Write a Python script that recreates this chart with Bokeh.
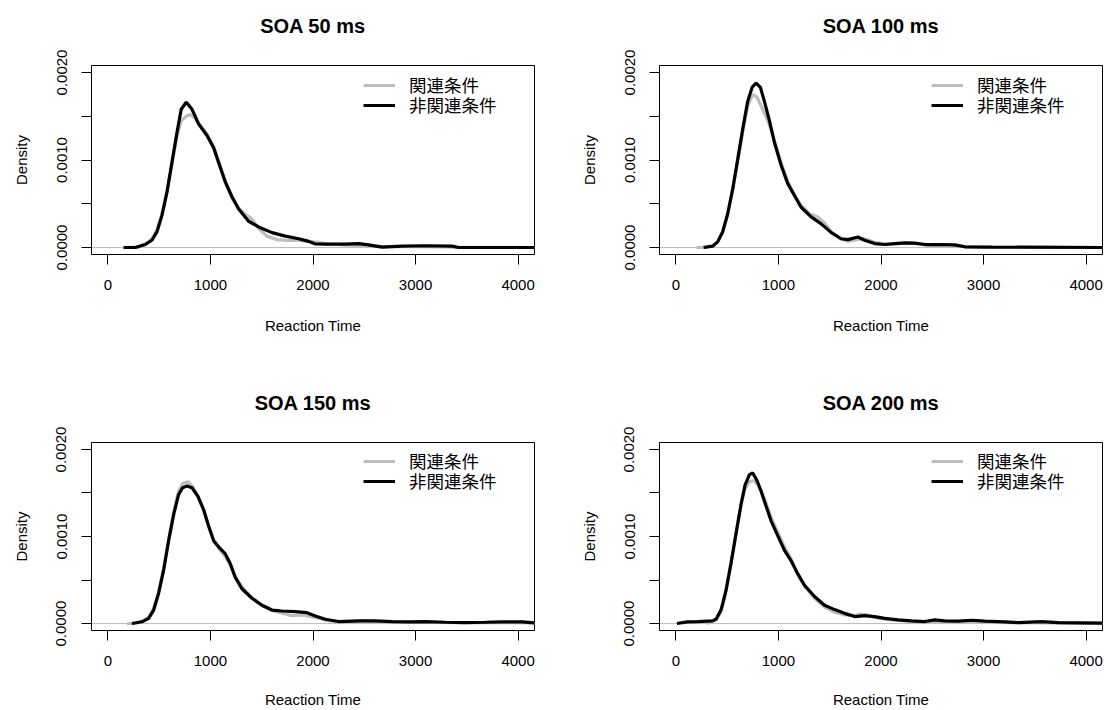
from bokeh.plotting import figure
from bokeh.layouts import row, column
from bokeh.models import (Range1d, FixedTicker, Span, Legend, LegendItem,
                          NumeralTickFormatter, LinearAxis)
from bokeh.embed import file_html
from bokeh.resources import INLINE

titles = ["SOA 50 ms", "SOA 100 ms", "SOA 150 ms", "SOA 200 ms"]
legend_labels = ["関連条件", "非関連条件"]
x_axis_label = "Reaction Time"
y_axis_label = "Density"
x_ticks = [0, 1000, 2000, 3000, 4000]
y_major_ticks = [0, 0.001, 0.002]
y_minor_ticks = [0.0005, 0.0015]

# density values are in units of 1e-3
# SOA 50 ms
soa50_rel_x = [150, 300, 364, 429, 478, 527, 576, 624, 673, 715, 764, 800, 850, 900, 966, 1031, 1080, 1145, 1210, 1275, 1340, 1400, 1470, 1550, 1650, 1760, 1860, 1960, 2050, 2150, 2300, 2500, 2700, 3000, 3400, 4200]
soa50_rel_y = [0, 0.005, 0.04, 0.10, 0.20, 0.38, 0.64, 0.95, 1.27, 1.45, 1.50, 1.52, 1.48, 1.40, 1.30, 1.15, 0.98, 0.74, 0.56, 0.45, 0.38, 0.33, 0.22, 0.13, 0.09, 0.08, 0.08, 0.07, 0.06, 0.04, 0.03, 0.02, 0.01, 0.01, 0.005, 0]
soa50_unrel_x = [153, 267, 364, 429, 478, 527, 576, 624, 673, 715, 764, 820, 885, 966, 1031, 1080, 1145, 1210, 1275, 1372, 1470, 1600, 1730, 1860, 1958, 2023, 2120, 2315, 2446, 2543, 2673, 2868, 3096, 3356, 3421, 4200]
soa50_unrel_y = [0, 0, 0.034, 0.083, 0.178, 0.367, 0.633, 0.97, 1.31, 1.58, 1.66, 1.58, 1.41, 1.28, 1.14, 0.97, 0.75, 0.58, 0.44, 0.30, 0.235, 0.17, 0.13, 0.10, 0.07, 0.04, 0.038, 0.038, 0.045, 0.03, 0.004, 0.015, 0.02, 0.015, 0, 0]

# SOA 100 ms
soa100_rel_x = [200, 300, 360, 410, 456, 505, 554, 603, 651, 700, 749, 790, 830, 870, 912, 961, 1026, 1091, 1156, 1221, 1300, 1384, 1450, 1515, 1600, 1680, 1760, 1840, 1938, 2036, 2134, 2231, 2330, 2450, 2600, 2720, 2820, 3000, 3300, 3700, 4200]
soa100_rel_y = [0, 0.005, 0.02, 0.07, 0.18, 0.38, 0.66, 0.99, 1.32, 1.62, 1.75, 1.72, 1.62, 1.52, 1.40, 1.22, 0.97, 0.75, 0.60, 0.48, 0.39, 0.35, 0.28, 0.18, 0.10, 0.07, 0.09, 0.10, 0.06, 0.04, 0.04, 0.05, 0.045, 0.03, 0.02, 0.02, 0.01, 0.005, 0.003, 0.002, 0]
soa100_unrel_x = [270, 358, 407, 456, 505, 554, 603, 651, 700, 743, 782, 824, 863, 912, 961, 1026, 1091, 1156, 1221, 1319, 1417, 1515, 1612, 1678, 1775, 1840, 1938, 2036, 2134, 2231, 2329, 2427, 2590, 2720, 2818, 3078, 4200]
soa100_unrel_y = [0, 0.015, 0.064, 0.178, 0.386, 0.67, 1.01, 1.35, 1.67, 1.83, 1.88, 1.83, 1.67, 1.45, 1.20, 0.94, 0.73, 0.595, 0.46, 0.35, 0.27, 0.17, 0.10, 0.09, 0.12, 0.083, 0.045, 0.034, 0.045, 0.053, 0.05, 0.034, 0.034, 0.03, 0.008, 0.004, 0]

# SOA 150 ms
soa150_rel_x = [185, 260, 332, 397, 446, 494, 543, 592, 641, 689, 730, 780, 830, 878, 933, 982, 1031, 1096, 1145, 1193, 1242, 1307, 1405, 1502, 1600, 1700, 1795, 1900, 1980, 2050, 2120, 2250, 2450, 2650, 2900, 3100, 3400, 3700, 4000, 4200]
soa150_rel_y = [0, 0.003, 0.025, 0.07, 0.17, 0.36, 0.63, 0.97, 1.28, 1.52, 1.61, 1.63, 1.57, 1.46, 1.30, 1.12, 0.96, 0.84, 0.77, 0.67, 0.54, 0.42, 0.30, 0.21, 0.15, 0.12, 0.09, 0.10, 0.08, 0.06, 0.04, 0.02, 0.025, 0.02, 0.015, 0.015, 0.01, 0.01, 0.01, 0.005]
soa150_unrel_x = [234, 332, 397, 446, 494, 543, 592, 641, 689, 728, 771, 820, 878, 933, 982, 1031, 1096, 1145, 1193, 1242, 1307, 1405, 1502, 1600, 1698, 1828, 1941, 2023, 2120, 2250, 2446, 2608, 2771, 2933, 3096, 3291, 3486, 3681, 3844, 4039, 4169]
soa150_unrel_y = [0, 0.02, 0.06, 0.155, 0.345, 0.61, 0.95, 1.25, 1.48, 1.56, 1.58, 1.56, 1.46, 1.31, 1.12, 0.95, 0.86, 0.80, 0.69, 0.53, 0.40, 0.29, 0.21, 0.155, 0.144, 0.136, 0.125, 0.087, 0.049, 0.023, 0.03, 0.03, 0.023, 0.02, 0.023, 0.015, 0.011, 0.015, 0.02, 0.02, 0.008]

# SOA 200 ms
soa200_rel_x = [300, 391, 420, 460, 489, 537, 586, 635, 674, 717, 760, 800, 840, 880, 928, 993, 1059, 1124, 1189, 1254, 1352, 1450, 1547, 1645, 1743, 1800, 1860, 1938, 2036, 2166, 2296, 2450, 2600, 2800, 3000, 3300, 3600, 4200]
soa200_rel_y = [0, 0.04, 0.09, 0.22, 0.40, 0.70, 1.04, 1.36, 1.55, 1.63, 1.64, 1.60, 1.50, 1.38, 1.22, 1.05, 0.88, 0.74, 0.56, 0.43, 0.29, 0.19, 0.13, 0.10, 0.09, 0.11, 0.10, 0.07, 0.05, 0.035, 0.025, 0.02, 0.025, 0.02, 0.015, 0.01, 0.008, 0]
soa200_unrel_x = [10, 114, 212, 358, 391, 440, 489, 537, 586, 635, 674, 717, 749, 788, 831, 879, 928, 993, 1059, 1124, 1189, 1254, 1352, 1450, 1547, 1645, 1743, 1840, 1938, 2036, 2166, 2296, 2427, 2524, 2622, 2752, 2883, 3013, 3208, 3339, 3567, 3730, 3925, 4179]
soa200_unrel_y = [0, 0.02, 0.023, 0.03, 0.05, 0.155, 0.38, 0.69, 1.03, 1.37, 1.59, 1.71, 1.73, 1.65, 1.52, 1.35, 1.18, 1.01, 0.84, 0.72, 0.57, 0.44, 0.31, 0.21, 0.16, 0.117, 0.08, 0.09, 0.08, 0.06, 0.042, 0.03, 0.023, 0.042, 0.03, 0.027, 0.038, 0.027, 0.019, 0.011, 0.023, 0.011, 0.008, 0.004]

panels = [
    (soa50_rel_x, soa50_rel_y, soa50_unrel_x, soa50_unrel_y),
    (soa100_rel_x, soa100_rel_y, soa100_unrel_x, soa100_unrel_y),
    (soa150_rel_x, soa150_rel_y, soa150_unrel_x, soa150_unrel_y),
    (soa200_rel_x, soa200_rel_y, soa200_unrel_x, soa200_unrel_y),
]

FONT = "Liberation Sans"
LEGEND_FONT = "Liberation Sans, 'Noto Sans CJK JP'"
GRAY = "#BEBEBE"
X_LO, X_HI = -160, 4160
Y_LO, Y_HI = -0.00008, 0.00208
FRAME_W, FRAME_H = 443, 189


def make_legend(label, renderer, y):
    lg = Legend(items=[LegendItem(label=label, renderers=[renderer])], location=(272, y))
    lg.border_line_color = None
    lg.background_fill_alpha = 0
    lg.padding = 0
    lg.margin = 0
    lg.spacing = 0
    lg.glyph_width = 32
    lg.glyph_height = 20
    lg.label_height = 20
    lg.label_standoff = 14
    lg.label_text_font = LEGEND_FONT
    lg.label_text_font_size = "17.5px"
    lg.label_text_color = "black"
    lg.label_text_baseline = "middle"
    return lg


def make_panel(idx, left, right_border, height, bottom, lab_standoff):
    rx, ry, ux, uy = panels[idx]
    width = left + FRAME_W + right_border
    p = figure(width=width, height=height,
               x_range=Range1d(X_LO, X_HI), y_range=Range1d(Y_LO, Y_HI),
               min_border_left=left, min_border_right=right_border,
               min_border_top=65, min_border_bottom=bottom,
               output_backend="svg", toolbar_location=None,
               x_axis_label=x_axis_label, y_axis_label=y_axis_label)

    p.grid.visible = False
    p.outline_line_color = "black"
    p.outline_line_width = 1
    p.outline_line_alpha = 1
    p.background_fill_color = "white"
    p.border_fill_color = "white"

    for ax in (p.xaxis[0], p.yaxis[0]):
        ax.axis_line_color = None
        ax.major_tick_out = 10
        ax.major_tick_in = 0
        ax.major_tick_line_color = "black"
        ax.minor_tick_out = 10
        ax.minor_tick_in = 0
        ax.minor_tick_line_color = "black"
        ax.major_label_text_font = FONT
        ax.major_label_text_font_size = "15px"
        ax.major_label_text_color = "black"
        ax.axis_label_text_font = FONT
        ax.axis_label_text_font_size = "15px"
        ax.axis_label_text_font_style = "normal"
        ax.axis_label_text_color = "black"
        ax.major_label_standoff = 15
        ax.axis_label_standoff = 24
    p.xaxis.axis_label_standoff = lab_standoff

    p.xaxis.ticker = FixedTicker(ticks=x_ticks, minor_ticks=[])
    p.yaxis.ticker = FixedTicker(ticks=y_major_ticks, minor_ticks=y_minor_ticks)
    p.yaxis.formatter = NumeralTickFormatter(format="0.0000")
    p.yaxis.major_label_orientation = "parallel"

    # panel title, drawn as the label of a tick-less axis above the frame
    tax = LinearAxis(axis_label=titles[idx], ticker=FixedTicker(ticks=[], minor_ticks=[]))
    tax.axis_line_color = None
    tax.major_tick_line_color = None
    tax.minor_tick_line_color = None
    tax.major_tick_out = 0
    tax.minor_tick_out = 0
    tax.major_label_standoff = 0
    tax.major_label_text_font_size = "0px"
    tax.axis_label_text_font = FONT
    tax.axis_label_text_font_size = "20px"
    tax.axis_label_text_font_style = "bold"
    tax.axis_label_text_color = "black"
    tax.axis_label_standoff = 29
    p.add_layout(tax, "above")

    p.add_layout(Span(location=0, dimension="width", line_color=GRAY,
                      line_width=1, level="underlay"))

    r_rel = p.line(rx, [v / 1000.0 for v in ry], line_color=GRAY, line_width=3.2)
    r_unrel = p.line(ux, [v / 1000.0 for v in uy], line_color="black", line_width=3.2)

    p.add_layout(make_legend(legend_labels[0], r_rel, FRAME_H - 22 - 10))
    p.add_layout(make_legend(legend_labels[1], r_unrel, FRAME_H - 42 - 10))
    return p


p1 = make_panel(0, 91, 18, 377, 123, 24)
p2 = make_panel(1, 107, 2, 377, 123, 24)
p3 = make_panel(2, 91, 18, 333, 79, 22)
p4 = make_panel(3, 107, 2, 333, 79, 22)

layout = column(row(p1, p2), row(p3, p4))

open("out.html", "w").write(file_html(layout, INLINE))
